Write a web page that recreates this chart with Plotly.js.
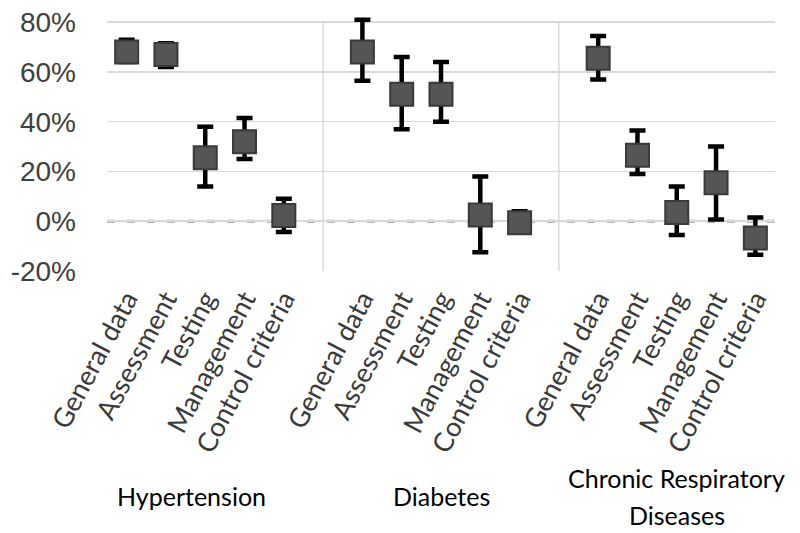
<!DOCTYPE html>
<html>
<head>
<meta charset="utf-8">
<script src="https://cdn.plot.ly/plotly-3.0.1.min.js"></script>
<style>html,body{margin:0;padding:0;background:#fff;}#chart{width:800px;height:533px;}</style>
</head>
<body>
<div id="chart"></div>
<script>
// ---- data (percent) ----
const categories = ['General data', 'Assessment', 'Testing', 'Management', 'Control criteria'];
const groups = ['Hypertension', 'Diabetes', 'Chronic Respiratory<br>Diseases'];

const hypertension      = [68.0, 67.0, 25.5, 32.0, 2.3];
const hypertensionUpper = [73.0, 71.5, 38.0, 41.5, 9.0];
const hypertensionLower = [64.0, 62.0, 14.0, 25.0, -4.3];

const diabetes      = [68.0, 51.0, 51.0, 2.5, -0.6];
const diabetesUpper = [81.0, 66.0, 64.0, 18.0, 4.0];
const diabetesLower = [56.5, 37.0, 40.0, -12.5, -4.0];

const respiratory      = [65.5, 26.5, 3.5, 15.5, -6.7];
const respiratoryUpper = [74.5, 36.5, 14.0, 30.0, 1.5];
const respiratoryLower = [57.0, 19.0, -5.5, 0.7, -13.5];

const yTickValues = [-20, 0, 20, 40, 60, 80];
const yTickLabels = ['-20%', '0%', '20%', '40%', '60%', '80%'];

// ---- build ----
const seriesList = [
  [hypertension, hypertensionUpper, hypertensionLower],
  [diabetes, diabetesUpper, diabetesLower],
  [respiratory, respiratoryUpper, respiratoryLower]
];
const slotsPerGroup = categories.length + 1;

const xs = [], ys = [], ePlus = [], eMinus = [], tickText = [];
seriesList.forEach((s, g) => {
  const [v, up, lo] = s;
  v.forEach((val, i) => {
    xs.push(g * slotsPerGroup + i);
    ys.push(val);
    ePlus.push(up[i] - val);
    eMinus.push(val - lo[i]);
    tickText.push(categories[i]);
  });
});

const trace = {
  type: 'scatter',
  mode: 'markers',
  x: xs,
  y: ys,
  cliponaxis: false,
  marker: {symbol: 'square', size: 23, color: '#555555', line: {color: '#3a3a3a', width: 2}},
  error_y: {type: 'data', symmetric: false, array: ePlus, arrayminus: eMinus,
            color: '#000000', thickness: 4.5, width: 8},
  hoverinfo: 'x+y',
  showlegend: false
};

const xMax = groups.length * slotsPerGroup - 1.5;
const yMin = -20, yGridMax = 80, yMax = 82.5;
const shapes = [];
for (let g = 1; g < groups.length; g++) {
  const sx = g * slotsPerGroup - 1;
  shapes.push({type: 'line', xref: 'x', yref: 'y', x0: sx, x1: sx, y0: yMin, y1: yGridMax,
               line: {color: '#d9d9d9', width: 1.5}, layer: 'below'});
}
shapes.push({type: 'line', xref: 'paper', yref: 'y', x0: 0, x1: 1, y0: 0, y1: 0,
             line: {color: '#9e9e9e', width: 3, dash: '8px,12px'}, layer: 'between'});

const plotTop = 16, plotBottomMargin = 262;
const plotH = 533 - plotTop - plotBottomMargin;
const groupX = [1.65, 8, 14];
const groupY = [496, 496, 478];
const lineGap = 37;
const annotations = [];
groups.forEach((name, g) => {
  name.split('<br>').forEach((line, k) => {
    annotations.push({
      text: line, x: groupX[g], xref: 'x',
      y: 1 - (groupY[g] + k * lineGap - plotTop) / plotH, yref: 'paper',
      showarrow: false, xanchor: 'center', yanchor: 'middle',
      font: {family: 'Lato, "Noto Sans", sans-serif', size: 25, color: '#000000'}
    });
  });
});

const layout = {
  width: 800, height: 533,
  margin: {l: 107, r: 25, t: plotTop, b: plotBottomMargin},
  paper_bgcolor: '#ffffff', plot_bgcolor: '#ffffff',
  xaxis: {
    range: [-0.5, xMax],
    tickvals: xs, ticktext: tickText,
    tickangle: -62,
    tickfont: {family: 'Lato, "Noto Sans", sans-serif', size: 27, color: '#3a3a3a'},
    showgrid: false, zeroline: false, showline: false, ticks: '',
    ticklabelstandoff: 6
  },
  yaxis: {
    range: [yMin, yMax],
    tickvals: yTickValues, ticktext: yTickLabels,
    tickfont: {family: '"Liberation Sans", Arial, sans-serif', size: 28, color: '#404040'},
    showgrid: true, gridcolor: '#d9d9d9', gridwidth: 1.5,
    zeroline: false, showline: false, ticks: '',
    ticklabelstandoff: 30
  },
  shapes: shapes,
  annotations: annotations
};

Plotly.newPlot('chart', [trace], layout, {displayModeBar: false, staticPlot: true});
</script>
</body>
</html>
